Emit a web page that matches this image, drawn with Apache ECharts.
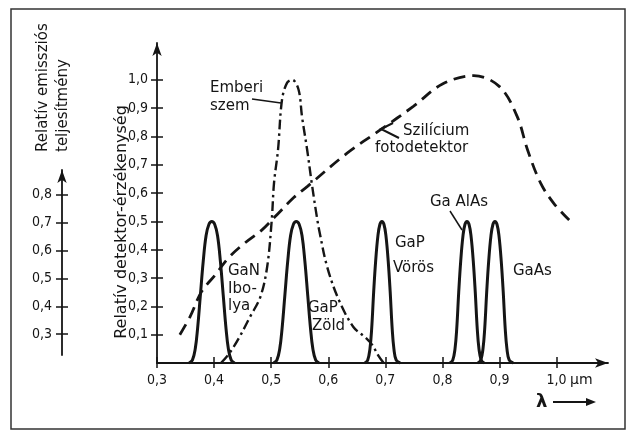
<!DOCTYPE html>
<html><head><meta charset="utf-8">
<script src="https://cdn.jsdelivr.net/npm/echarts@6/dist/echarts.min.js"></script>
<style>html,body{margin:0;padding:0;background:#fff}#c{width:632px;height:435px}</style>
</head><body><div id="c"></div>
<script>
// ---- tick values ----
const xTicks = [0.3, 0.4, 0.5, 0.6, 0.7, 0.8, 0.9, 1.0];
const detTicks = [0.1, 0.2, 0.3, 0.4, 0.5, 0.6, 0.7, 0.8, 0.9, 1.0];
const emisTicks = [0.3, 0.4, 0.5, 0.6, 0.7, 0.8];

// ---- curves (wavelength µm, relative value) ----
const siliconData = [[0.340,0.10],[0.358,0.164],[0.378,0.252],[0.402,0.311],[0.425,0.371],[0.454,0.424],[0.484,0.47],[0.507,0.517],[0.540,0.585],[0.563,0.623],[0.633,0.741],[0.691,0.823],[0.749,0.906],[0.800,0.985],[0.855,1.015],[0.900,0.976],[0.931,0.870],[0.949,0.753],[0.972,0.635],[0.995,0.564],[1.022,0.505]];
const eyeData = [[0.412,0],[0.427,0.035],[0.444,0.09],[0.463,0.163],[0.481,0.233],[0.493,0.34],[0.501,0.505],[0.505,0.636],[0.512,0.753],[0.519,0.93],[0.528,0.99],[0.537,1.0],[0.548,0.965],[0.554,0.87],[0.563,0.753],[0.571,0.636],[0.580,0.516],[0.585,0.46],[0.598,0.34],[0.618,0.225],[0.644,0.127],[0.665,0.09],[0.677,0.064],[0.688,0.025],[0.697,0]];
const ganData = [[0.356,0],[0.362,0.01],[0.367,0.05],[0.371,0.12],[0.376,0.24],[0.381,0.36],[0.386,0.45],[0.391,0.49],[0.396,0.5],[0.401,0.49],[0.406,0.45],[0.411,0.36],[0.416,0.24],[0.421,0.12],[0.425,0.05],[0.430,0.01],[0.436,0]];
const gapGreenData = [[0.504,0],[0.510,0.01],[0.515,0.05],[0.519,0.12],[0.524,0.24],[0.529,0.36],[0.534,0.45],[0.539,0.49],[0.544,0.5],[0.549,0.49],[0.554,0.45],[0.559,0.36],[0.564,0.24],[0.569,0.12],[0.573,0.05],[0.578,0.01],[0.584,0]];
const gapRedData = [[0.664,0],[0.669,0.01],[0.673,0.05],[0.676,0.12],[0.6795,0.25],[0.683,0.36],[0.687,0.45],[0.6905,0.49],[0.694,0.5],[0.6975,0.49],[0.701,0.45],[0.705,0.36],[0.7085,0.25],[0.712,0.12],[0.715,0.05],[0.719,0.01],[0.726,0]];
const gaalasData = [[0.813,0],[0.818,0.01],[0.822,0.05],[0.825,0.12],[0.8285,0.25],[0.832,0.36],[0.836,0.45],[0.8395,0.49],[0.843,0.5],[0.8465,0.49],[0.850,0.45],[0.854,0.36],[0.8575,0.25],[0.861,0.12],[0.864,0.05],[0.868,0.01],[0.873,0]];
const gaasData = [[0.862,0],[0.867,0.01],[0.871,0.05],[0.874,0.12],[0.8775,0.25],[0.881,0.36],[0.885,0.45],[0.8885,0.49],[0.892,0.5],[0.8955,0.49],[0.899,0.45],[0.903,0.36],[0.9065,0.25],[0.910,0.12],[0.913,0.05],[0.917,0.01],[0.924,0]];

const INK = '#151515';
const FONT = 'DejaVu Sans';
const TICKFONT = '"DejaVu Sans Condensed", "DejaVu Sans", sans-serif';
const fmt = v => v.toFixed(1).replace('.', ',');

const chart = echarts.init(document.getElementById('c'), null, {renderer: 'canvas'});

function ledSeries(name, data) {
  return {name, type: 'line', data, smooth: 0.4, showSymbol: false,
    lineStyle: {color: INK, width: 3}, z: 3, silent: true};
}
function txt(text, x, y, extra) {
  return Object.assign({type: 'text', x, y, silent: true,
    style: {text, x: 0, y: 0, fill: INK, font: '15px ' + FONT, align: 'left', verticalAlign: 'middle'}}, extra || {});
}
function line(points, w) {
  return {type: 'polyline', silent: true, shape: {points}, style: {stroke: INK, lineWidth: w || 1.5, fill: null}};
}
// mirrored axis placed onto the main axis line: its outward ticks point into the plot,
// completing the cross-shaped tick marks of the reference
function innerTickAxis(gridIndex, min, max, ticks, pos, offset) {
  return {type: 'value', gridIndex, position: pos, offset, min, max,
    axisLine: {show: true, onZero: false, lineStyle: {color: 'rgba(0,0,0,0)'}},
    axisTick: {show: true, inside: false, length: 6, customValues: ticks, lineStyle: {color: INK, width: 1.5}},
    axisLabel: {show: false}, splitLine: {show: false}};
}

const GRID_W = 632 - 157 - 24;   // 451
const GRID_H = 435 - 43 - 72;    // 320

const option = {
  backgroundColor: '#fff',
  animation: false,
  grid: [
    {left: 157, top: 43, right: 24, bottom: 72},
    {left: 62, top: 170, width: 1, bottom: 80}
  ],
  xAxis: [
    {type: 'value', gridIndex: 0, position: 'bottom', min: 0.3, max: 1.09,
      axisLine: {show: true, onZero: false, symbol: ['none', 'arrow'], symbolSize: [7, 13], lineStyle: {color: INK, width: 1.8}},
      axisTick: {show: true, inside: false, length: 5, customValues: xTicks, lineStyle: {color: INK, width: 1.5}},
      axisLabel: {show: true, customValues: xTicks, formatter: fmt, color: INK, fontFamily: TICKFONT, fontSize: 14, margin: 10},
      splitLine: {show: false}},
    innerTickAxis(0, 0.3, 1.09, xTicks, 'top', -GRID_H),
    {type: 'value', gridIndex: 1, show: false, min: 0, max: 1}
  ],
  yAxis: [
    {type: 'value', gridIndex: 0, position: 'left', min: 0, max: 1.13,
      axisLine: {show: true, onZero: false, symbol: ['none', 'arrow'], symbolSize: [7, 13], lineStyle: {color: INK, width: 1.8}},
      axisTick: {show: true, inside: false, length: 6, customValues: detTicks, lineStyle: {color: INK, width: 1.5}},
      axisLabel: {show: true, customValues: detTicks, formatter: fmt, color: INK, fontFamily: TICKFONT, fontSize: 14, margin: 9},
      splitLine: {show: false}},
    innerTickAxis(0, 0, 1.13, detTicks, 'right', -GRID_W),
    {type: 'value', gridIndex: 1, position: 'left', min: 0.2255, max: 0.889,
      axisLine: {show: true, onZero: false, symbol: ['none', 'arrow'], symbolSize: [7, 13], lineStyle: {color: INK, width: 1.8}},
      axisTick: {show: true, inside: false, length: 6, customValues: emisTicks, lineStyle: {color: INK, width: 1.5}},
      axisLabel: {show: true, customValues: emisTicks, formatter: fmt, color: INK, fontFamily: TICKFONT, fontSize: 14, margin: 10},
      splitLine: {show: false}},
    innerTickAxis(1, 0.2255, 0.889, emisTicks, 'right', -1)
  ],
  series: [
    {name: 'Szilícium fotodetektor', type: 'line', data: siliconData, smooth: 0.35, showSymbol: false,
      lineStyle: {color: INK, width: 2.8, type: [12, 7]}, silent: true},
    {name: 'Emberi szem', type: 'line', data: eyeData, smooth: 0.35, showSymbol: false,
      lineStyle: {color: INK, width: 2.4, type: [10, 4, 2.5, 4]}, silent: true},
    ledSeries('GaN', ganData),
    ledSeries('GaP zöld', gapGreenData),
    ledSeries('GaP vörös', gapRedData),
    ledSeries('GaAlAs', gaalasData),
    ledSeries('GaAs', gaasData)
  ],
  graphic: [
    {type: 'rect', silent: true, shape: {x: 11, y: 9, width: 614, height: 420}, style: {fill: null, stroke: '#333', lineWidth: 1.5}},
    txt('Relatív detektor-érzékenység', 122, 222, {rotation: Math.PI / 2, style: {text: 'Relatív detektor-érzékenység', x: 0, y: 0, fill: INK, font: '16px ' + FONT, align: 'center', verticalAlign: 'middle'}}),
    txt('Relatív emissziós', 43, 152, {rotation: Math.PI / 2}),
    txt('teljesítmény', 63, 152, {rotation: Math.PI / 2}),
    txt('Emberi', 210, 88),
    txt('szem', 210, 106),
    line([[252, 99], [281, 103]]),
    txt('Szilícium', 403, 131),
    txt('fotodetektor', 375, 148),
    line([[393, 123], [381, 129], [399, 138]], 2),
    txt('GaN', 228, 271),
    txt('Ibo-', 228, 289),
    txt('lya', 228, 306),
    txt('GaP', 308, 308),
    txt('Zöld', 312, 326),
    txt('GaP', 395, 243),
    txt('Vörös', 393, 268),
    txt('Ga AlAs', 430, 202),
    line([[450, 211], [462, 230]]),
    txt('GaAs', 513, 271),
    txt('µm', 570, 380, {style: {text: 'µm', x: 0, y: 0, fill: INK, font: '14px ' + FONT, align: 'left', verticalAlign: 'middle'}}),
    txt('λ', 536, 402, {style: {text: 'λ', x: 0, y: 0, fill: INK, font: 'bold 18px ' + FONT, align: 'left', verticalAlign: 'middle'}}),
    line([[553, 402], [588, 402]], 2),
    {type: 'polygon', silent: true, shape: {points: [[586, 398], [596, 402], [586, 406]]}, style: {fill: INK}}
  ]
};
chart.setOption(option);
</script>
</body></html>
